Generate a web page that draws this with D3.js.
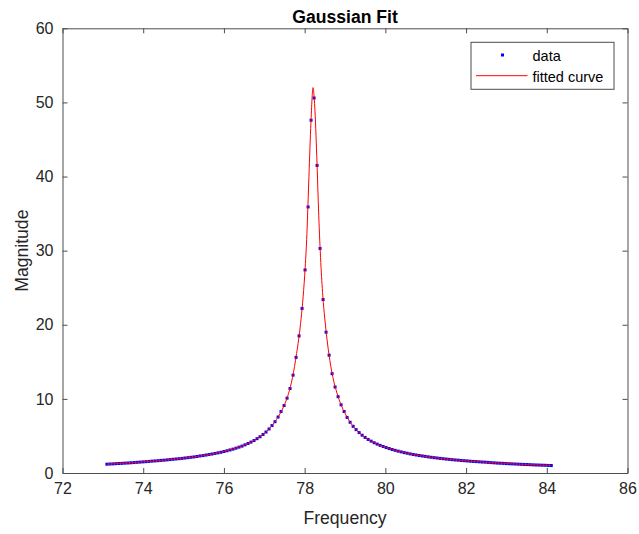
<!DOCTYPE html>
<html>
<head>
<meta charset="utf-8">
<script src="https://cdn.jsdelivr.net/npm/d3@7"></script>
<style>
  body { margin: 0; background: #fff; }
  svg { font-family: "Liberation Sans", Arial, Helvetica, sans-serif; }
</style>
</head>
<body>
<script>
// ********************** DATA **************************************************************
var freq = [
  73.100, 73.174, 73.249, 73.323, 73.398, 73.472, 73.546, 73.621, 73.695, 73.770,
  73.844, 73.918, 73.993, 74.067, 74.142, 74.216, 74.290, 74.365, 74.439, 74.514,
  74.588, 74.662, 74.737, 74.811, 74.886, 74.960, 75.034, 75.109, 75.183, 75.258,
  75.332, 75.406, 75.481, 75.555, 75.630, 75.704, 75.778, 75.853, 75.927, 76.002,
  76.076, 76.150, 76.225, 76.299, 76.374, 76.448, 76.522, 76.597, 76.671, 76.746,
  76.820, 76.894, 76.969, 77.043, 77.118, 77.192, 77.266, 77.341, 77.415, 77.490,
  77.564, 77.638, 77.713, 77.787, 77.862, 77.936, 78.010, 78.085, 78.159, 78.234,
  78.308, 78.382, 78.457, 78.531, 78.606, 78.680, 78.754, 78.829, 78.903, 78.978,
  79.052, 79.126, 79.201, 79.275, 79.350, 79.424, 79.498, 79.573, 79.647, 79.722,
  79.796, 79.870, 79.945, 80.019, 80.094, 80.168, 80.242, 80.317, 80.391, 80.466,
  80.540, 80.614, 80.689, 80.763, 80.838, 80.912, 80.986, 81.061, 81.135, 81.210,
  81.284, 81.358, 81.433, 81.507, 81.582, 81.656, 81.730, 81.805, 81.879, 81.954,
  82.028, 82.102, 82.177, 82.251, 82.326, 82.400, 82.474, 82.549, 82.623, 82.698,
  82.772, 82.846, 82.921, 82.995, 83.070, 83.144, 83.218, 83.293, 83.367, 83.442,
  83.516, 83.590, 83.665, 83.739, 83.814, 83.888, 83.962, 84.037, 84.111
];
var magnitude = [
  1.19, 1.21, 1.23, 1.26, 1.28, 1.30, 1.33, 1.35, 1.38, 1.41,
  1.44, 1.47, 1.50, 1.53, 1.56, 1.60, 1.63, 1.66, 1.70, 1.73,
  1.77, 1.81, 1.85, 1.89, 1.93, 1.97, 2.02, 2.07, 2.12, 2.17,
  2.23, 2.30, 2.35, 2.42, 2.49, 2.56, 2.64, 2.72, 2.80, 2.90,
  3.00, 3.11, 3.22, 3.35, 3.49, 3.63, 3.80, 3.98, 4.17, 4.38,
  4.63, 4.89, 5.20, 5.53, 5.94, 6.40, 6.92, 7.55, 8.30, 9.10,
  10.1, 11.4, 13.2, 15.6, 18.5, 22.2, 27.4, 35.9, 47.6, 50.6,
  41.5, 30.3, 23.4, 19.0, 15.9, 13.4, 11.6, 10.3, 9.2, 8.3,
  7.5, 6.85, 6.3, 5.85, 5.45, 5.1, 4.8, 4.53, 4.3, 4.08,
  3.90, 3.73, 3.58, 3.43, 3.30, 3.17, 3.06, 2.95, 2.85, 2.75,
  2.67, 2.58, 2.50, 2.43, 2.36, 2.30, 2.24, 2.18, 2.12, 2.07,
  2.02, 1.97, 1.93, 1.88, 1.84, 1.80, 1.76, 1.73, 1.69, 1.66,
  1.63, 1.59, 1.56, 1.54, 1.51, 1.48, 1.46, 1.43, 1.40, 1.37,
  1.34, 1.32, 1.30, 1.27, 1.25, 1.23, 1.21, 1.19, 1.17, 1.15,
  1.14, 1.12, 1.10, 1.08, 1.07, 1.05, 1.04, 1.02, 1.01
];

// fitted curve
var fitFreq = [
  73.1, 73.5, 74.0, 74.5, 75.0, 75.5, 76.0, 76.4, 76.8, 77.1,
  77.3, 77.5, 77.6, 77.7, 77.8, 77.9, 78.0, 78.05, 78.1, 78.15,
  78.21, 78.234, 78.25, 78.3, 78.35, 78.4, 78.45, 78.5, 78.6, 78.7,
  78.8, 78.9, 79.0, 79.2, 79.5, 79.8, 80.2, 80.7, 81.2, 81.8,
  82.5, 83.3, 84.1
];
var fitMag = [
  1.19, 1.31, 1.50, 1.72, 2.00, 2.36, 2.90, 3.55, 4.56, 5.84,
  7.2, 9.22, 10.7, 12.9, 16.1, 20.2, 26.6, 31.5, 39.0, 46.5,
  52.0, 50.8, 49.5, 42.8, 34.7, 28.4, 23.9, 20.8, 16.1, 12.9,
  10.8, 9.23, 8.05, 6.3, 4.8, 3.90, 3.12, 2.49, 2.07, 1.73,
  1.445, 1.19, 1.01
];

var xTicks = [72, 74, 76, 78, 80, 82, 84, 86];
var yTicks = [0, 10, 20, 30, 40, 50, 60];
var titleText = "Gaussian Fit";
var xLabel = "Frequency";
var yLabel = "Magnitude";
var legendLabels = ["data", "fitted curve"];

// ********************** LAYOUT **************************************************************
var width = 639;
var height = 534;
var plotLeft = 62.5;
var plotRight = 627.5;
var plotTop = 28.3;
var plotBottom = 473;
var axisColor = "#4d4d4d";
var textColor = "#262626";

var svg = d3.select("body")
  .append("svg")
  .attr("width", width)
  .attr("height", height);

var x = d3.scaleLinear().domain([72, 86]).range([plotLeft, plotRight]);
var y = d3.scaleLinear().domain([0, 60]).range([plotBottom, plotTop]);

// ********************** AXES **************************************************************
function styleAxis(g, showText) {
  g.select(".domain").attr("stroke", axisColor).attr("stroke-width", 1);
  g.selectAll(".tick line").attr("stroke", axisColor).attr("stroke-width", 1);
  g.selectAll(".tick text")
    .attr("fill", textColor)
    .style("font-size", "16px")
    .style("display", showText ? null : "none");
}

svg.append("g")
  .attr("transform", "translate(0," + plotBottom + ")")
  .call(d3.axisBottom(x).tickValues(xTicks).tickSizeInner(-5).tickSizeOuter(0).tickPadding(10))
  .call(styleAxis, true);

svg.append("g")
  .attr("transform", "translate(0," + plotTop + ")")
  .call(d3.axisTop(x).tickValues(xTicks).tickSizeInner(-5).tickSizeOuter(0))
  .call(styleAxis, false);

svg.append("g")
  .attr("transform", "translate(" + plotLeft + ",0)")
  .call(d3.axisLeft(y).tickValues(yTicks).tickSizeInner(-5).tickSizeOuter(0).tickPadding(9))
  .call(styleAxis, true);

svg.append("g")
  .attr("transform", "translate(" + plotRight + ",0)")
  .call(d3.axisRight(y).tickValues(yTicks).tickSizeInner(-5).tickSizeOuter(0))
  .call(styleAxis, false);

// ********************** MARKS **************************************************************
var points = freq.map(function(f, i) { return [f, magnitude[i]]; });
var fitPoints = fitFreq.map(function(f, i) { return [f, fitMag[i]]; });

svg.append("g")
  .selectAll("rect")
  .data(points)
  .enter().append("rect")
  .attr("x", function(d) { return x(d[0]) - 1.5; })
  .attr("y", function(d) { return y(d[1]) - 1.5; })
  .attr("width", 3)
  .attr("height", 3)
  .attr("fill", "#0000ff");

var line = d3.line()
  .x(function(d) { return x(d[0]); })
  .y(function(d) { return y(d[1]); })
  .curve(d3.curveMonotoneX);

svg.append("path")
  .datum(fitPoints)
  .attr("d", line)
  .attr("fill", "none")
  .attr("stroke", "#ff0000")
  .attr("stroke-width", 1);

// ********************** TEXT **************************************************************
svg.append("text")
  .attr("x", (plotLeft + plotRight) / 2)
  .attr("y", 23)
  .attr("text-anchor", "middle")
  .style("font-size", "17.6px")
  .style("font-weight", "bold")
  .attr("fill", "#000")
  .text(titleText);

svg.append("text")
  .attr("x", (plotLeft + plotRight) / 2)
  .attr("y", 524)
  .attr("text-anchor", "middle")
  .style("font-size", "17.6px")
  .attr("fill", textColor)
  .text(xLabel);

svg.append("text")
  .attr("transform", "translate(28," + ((plotTop + plotBottom) / 2) + ") rotate(-90)")
  .attr("text-anchor", "middle")
  .style("font-size", "17.6px")
  .attr("fill", textColor)
  .text(yLabel);

// ********************** LEGEND **************************************************************
var legend = svg.append("g");

legend.append("rect")
  .attr("x", 471)
  .attr("y", 42.3)
  .attr("width", 143)
  .attr("height", 47)
  .attr("fill", "#fff")
  .attr("stroke", axisColor)
  .attr("stroke-width", 1);

legend.append("rect")
  .attr("x", 501)
  .attr("y", 53.5)
  .attr("width", 3)
  .attr("height", 3)
  .attr("fill", "#0000ff");

legend.append("line")
  .attr("x1", 476)
  .attr("x2", 527.5)
  .attr("y1", 75.7)
  .attr("y2", 75.7)
  .attr("stroke", "#ff0000")
  .attr("stroke-width", 1);

legend.selectAll("text.legend-label")
  .data(legendLabels)
  .enter().append("text")
  .attr("class", "legend-label")
  .attr("x", 532.5)
  .attr("y", function(d, i) { return 60.5 + i * 21; })
  .style("font-size", "14.5px")
  .attr("fill", "#000")
  .text(function(d) { return d; });
</script>
</body>
</html>
